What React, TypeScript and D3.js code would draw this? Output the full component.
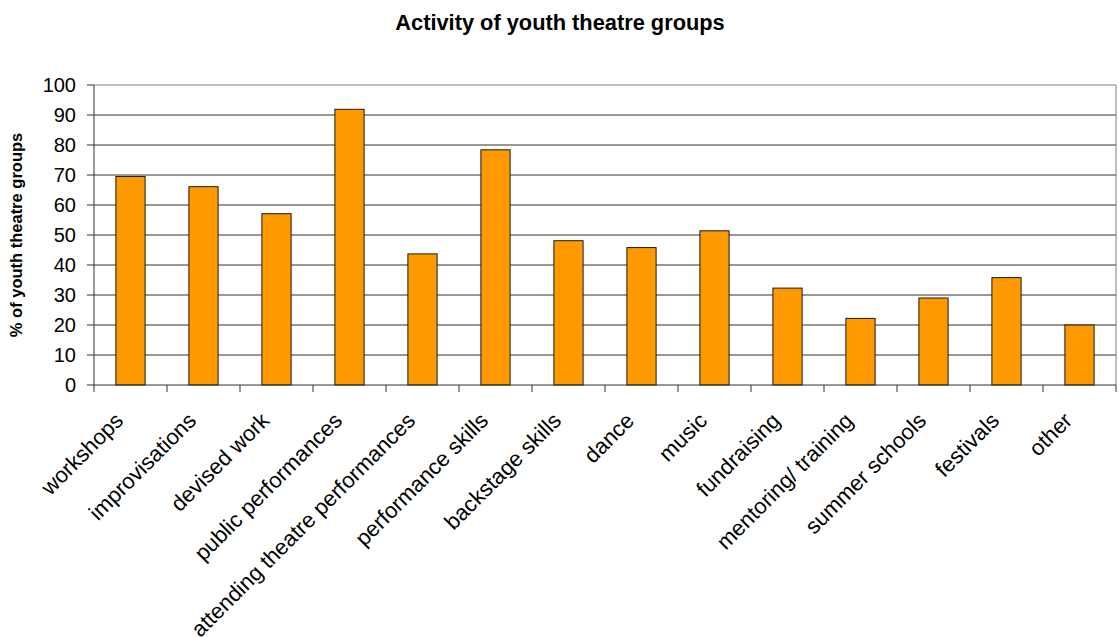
import React from "react";
import * as d3 from "d3";

const categories = [
  "workshops",
  "improvisations",
  "devised work",
  "public performances",
  "attending theatre performances",
  "performance skills",
  "backstage skills",
  "dance",
  "music",
  "fundraising",
  "mentoring/ training",
  "summer schools",
  "festivals",
  "other",
];
const values = [69.5, 66.1, 57.1, 91.9, 43.7, 78.4, 48.1, 45.8, 51.4, 32.3, 22.2, 29.0, 35.8, 20.0];
const yTicks = [0, 10, 20, 30, 40, 50, 60, 70, 80, 90, 100];

const W = 1119;
const H = 637;
const left = 94;
const right = 1116;
const top = 85;
const bottom = 385;
const FONT = "Arial, 'Liberation Sans', Helvetica, sans-serif";

export default function App() {
  const x = d3.scaleBand<string>().domain(categories).range([left, right]).paddingInner(0.6).paddingOuter(0.3);
  const xb = d3.scaleBand<string>().domain(categories).range([left, right]);
  const y = d3.scaleLinear().domain([0, 100]).range([bottom, top]);
  const bounds = categories.map((_, i) => left + i * xb.step()).concat([right]);

  return (
    <svg width={W} height={H} style={{ position: "absolute", left: 0, top: 0 }} fontFamily={FONT}>
      <rect x={0} y={0} width={W} height={H} fill="#ffffff" />
      <text x={560} y={30} textAnchor="middle" fontSize={21.8} fontWeight="bold" fill="#000">
        Activity of youth theatre groups
      </text>
      <text
        transform={`translate(22,${(top + bottom) / 2}) rotate(-90)`}
        textAnchor="middle"
        fontSize={16.5}
        fontWeight="bold"
        fill="#000"
      >
        % of youth theatre groups
      </text>
      {yTicks.map((t) => (
        <g key={t}>
          {t > 0 && (
            <line x1={left} x2={right} y1={y(t)} y2={y(t)} stroke={t === 100 ? "#808080" : "#333"} strokeWidth={1} />
          )}
          <line x1={left - 7} x2={left} y1={y(t)} y2={y(t)} stroke="#333" />
          <text x={76} y={y(t)} dy="0.36em" textAnchor="end" fontSize={20} fill="#000">
            {t}
          </text>
        </g>
      ))}
      <line x1={right} x2={right} y1={top} y2={bottom} stroke="#808080" />
      {categories.map((c, i) => (
        <rect
          key={c}
          x={x(c)}
          y={y(values[i])}
          width={x.bandwidth()}
          height={bottom - y(values[i])}
          fill="#ff9900"
          stroke="#1a1a1a"
          strokeWidth={1}
        />
      ))}
      <line x1={left} x2={left} y1={top} y2={bottom} stroke="#333" />
      <line x1={left} x2={right} y1={bottom} y2={bottom} stroke="#333" />
      {bounds.map((b, i) => (
        <line key={i} x1={b} x2={b} y1={bottom} y2={bottom + 7} stroke="#333" />
      ))}
      {categories.map((c) => {
        const cx = (xb(c) as number) + xb.step() / 2;
        return (
          <text
            key={c}
            transform={`translate(${cx - 6},${bottom + 37}) rotate(-45)`}
            textAnchor="end"
            fontSize={22}
            fill="#000"
          >
            {c}
          </text>
        );
      })}
    </svg>
  );
}
